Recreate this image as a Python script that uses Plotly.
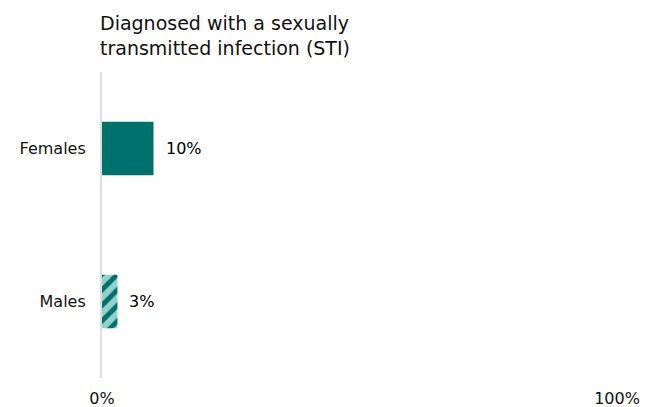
import plotly.graph_objects as go

categories = ["Females", "Males"]
values = [10, 3]
value_labels = ["10%", "3%"]
tick_vals = [0, 100]
tick_text = ["0%", "100%"]
title_text = "Diagnosed with a sexually<br>transmitted infection (STI)"

dark = "#00716C"
light = "#93D2CB"
FONT = "DejaVu Sans"
TXT = "#111111"

fig = go.Figure()
fig.add_trace(go.Bar(
    y=[categories[0]], x=[values[0]], orientation="h",
    marker=dict(color=dark, line=dict(width=0)),
    width=0.35, hoverinfo="skip",
))
fig.add_trace(go.Bar(
    y=[categories[1]], x=[values[1]], orientation="h",
    marker=dict(color=light, line=dict(width=0),
                pattern=dict(shape="/", fgcolor=dark, bgcolor=light,
                             size=11, solidity=0.45, fillmode="replace")),
    width=0.35, hoverinfo="skip",
))

for c, v, t in zip(categories, values, value_labels):
    fig.add_annotation(x=v, y=c, text=t, showarrow=False, xanchor="left",
                       xshift=10, font=dict(family=FONT, size=16, color="#000000"))

fig.add_annotation(text=title_text, xref="paper", yref="paper",
                   x=-4/515, y=1 + 62/306, xanchor="left", yanchor="top",
                   align="left", showarrow=False,
                   font=dict(family=FONT, size=19, color=TXT))

fig.update_layout(
    width=648, height=399,
    margin=dict(l=94, r=39, t=64, b=29, autoexpand=False),
    paper_bgcolor="white", plot_bgcolor="white",
    showlegend=False,
    barmode="overlay",
    font=dict(family=FONT, size=16, color=TXT),
)
fig.update_xaxes(range=[0, 100], tickvals=tick_vals, ticktext=tick_text,
                 showgrid=False, zeroline=False, showline=False,
                 ticks="", ticklabelstandoff=9, automargin=False,
                 tickfont=dict(family=FONT, size=16, color=TXT),
                 fixedrange=True)
fig.update_yaxes(categoryorder="array", categoryarray=categories[::-1],
                 range=[-0.5, 1.5], showgrid=False, zeroline=False,
                 showline=True, linecolor="#DDDDDD", linewidth=2,
                 ticks="", ticklabelstandoff=11, automargin=False,
                 tickfont=dict(family=FONT, size=16, color=TXT),
                 fixedrange=True)

fig.write_html("out.html")
